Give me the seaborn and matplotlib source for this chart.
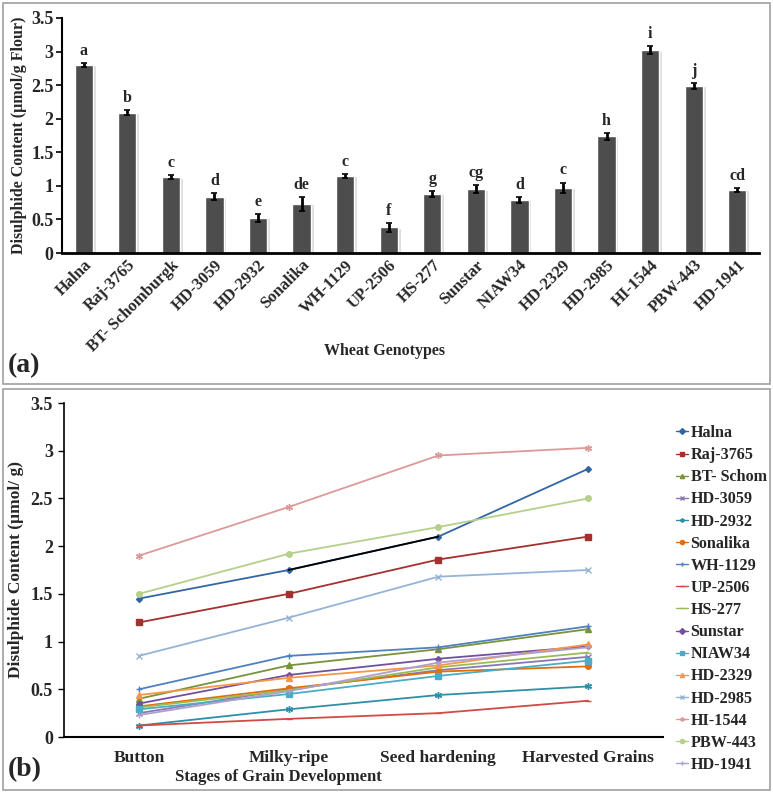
import numpy as np
import pandas as pd
import matplotlib
matplotlib.use("Agg")
import matplotlib.pyplot as plt
import matplotlib.patheffects as pe
from matplotlib.patches import Rectangle
import seaborn as sns

# ---------------- data ----------------
genotypes = ["Halna", "Raj-3765", "BT- Schomburgk", "HD-3059", "HD-2932", "Sonalika",
             "WH-1129", "UP-2506", "HS-277", "Sunstar", "NIAW34", "HD-2329",
             "HD-2985", "HI-1544", "PBW-443", "HD-1941"]
disulphide = [2.80, 2.09, 1.13, 0.84, 0.52, 0.73, 1.15, 0.38, 0.88, 0.95, 0.79, 0.97,
              1.74, 3.02, 2.49, 0.94]
disulphide_err = [0.03, 0.04, 0.03, 0.05, 0.06, 0.10, 0.03, 0.06, 0.04, 0.06, 0.04, 0.08,
                  0.05, 0.06, 0.04, 0.03]
letters = ["a", "b", "c", "d", "e", "de", "c", "f", "g", "cg", "d", "c", "h", "i", "j", "cd"]

stages = ["Button", "Milky-ripe", "Seed hardening", "Harvested Grains"]
legend_labels = ["Halna", "Raj-3765", "BT- Schom", "HD-3059", "HD-2932", "Sonalika",
                 "WH-1129", "UP-2506", "HS-277", "Sunstar", "NIAW34", "HD-2329",
                 "HD-2985", "HI-1544", "PBW-443", "HD-1941"]
halna    = [1.45, 1.75, 2.10, 2.81]
raj_3765 = [1.20, 1.50, 1.86, 2.10]
bt_schom = [0.40, 0.75, 0.92, 1.13]
hd_3059  = [0.25, 0.50, 0.70, 0.84]
hd_2932  = [0.12, 0.29, 0.44, 0.53]
sonalika = [0.32, 0.51, 0.685, 0.74]
wh_1129  = [0.50, 0.85, 0.94, 1.16]
up_2506  = [0.12, 0.19, 0.25, 0.38]
hs_277   = [0.31, 0.49, 0.73, 0.885]
sunstar  = [0.35, 0.65, 0.82, 0.95]
niaw34   = [0.29, 0.45, 0.64, 0.80]
hd_2329  = [0.44, 0.62, 0.75, 0.97]
hd_2985  = [0.85, 1.25, 1.68, 1.75]
hi_1544  = [1.90, 2.41, 2.95, 3.03]
pbw_443  = [1.50, 1.92, 2.20, 2.50]
hd_1941  = [0.23, 0.48, 0.78, 0.94]
series_values = [halna, raj_3765, bt_schom, hd_3059, hd_2932, sonalika, wh_1129, up_2506,
                 hs_277, sunstar, niaw34, hd_2329, hd_2985, hi_1544, pbw_443, hd_1941]

y_ticks = [0, 0.5, 1, 1.5, 2, 2.5, 3, 3.5]
y_tick_labels = ["0", "0.5", "1", "1.5", "2", "2.5", "3", "3.5"]

# ---------------- style ----------------
sns.set_theme(style="white")
plt.rcParams["font.family"] = ["Liberation Serif", "DejaVu Serif"]
plt.rcParams["font.weight"] = "bold"
plt.rcParams["axes.labelweight"] = "bold"

colors = ["#3365A5", "#A3312F", "#77933C", "#8A78B4", "#2E8FA8", "#E46C0A",
          "#4F81BD", "#D04A46", "#9BBB59", "#7150A0", "#4BACC6", "#F79646",
          "#95B3D7", "#DB9A98", "#B5D08A", "#ADA0CC"]
star = (6, 2, 0)
markers = ["D", "s", "^", "x", star, "o", "+", "_", "_", "D", "s", "^", "x", star, "o", "+"]
msizes = [3, 4, 4, 4, 5, 4, 5, 4, 4, 3, 4, 4, 4, 5, 4, 5]

W, H = 773, 794
fig = plt.figure(figsize=(W / 100, H / 100), dpi=100)

def fx(px):
    return px / W

def fy(py):
    return 1 - py / H

# panel frames
for (x0, y0, x1, y1) in [(3, 3, 770, 384), (3, 389, 770, 790)]:
    fig.patches.append(Rectangle((fx(x0), fy(y1)), fx(x1) - fx(x0), fy(y0) - fy(y1),
                                 transform=fig.transFigure, fill=False,
                                 edgecolor="#a0a0a0", linewidth=1.2, zorder=0))

# ---------------- (a) bar chart ----------------
ax1 = fig.add_axes([fx(62), fy(253), fx(759) - fx(62), fy(18) - fy(253)])
df_bar = pd.DataFrame({"genotype": genotypes, "value": disulphide})
sns.barplot(data=df_bar, x="genotype", y="value", color="#4d4d4d", saturation=1,
            width=0.42, errorbar=None, ax=ax1)
for p in ax1.patches:
    p.set_path_effects([pe.SimplePatchShadow(offset=(2, -1), shadow_rgbFace="#c8c8c8",
                                             alpha=0.6), pe.Normal()])
xpos = np.arange(len(genotypes))
ax1.errorbar(xpos, disulphide, yerr=disulphide_err, fmt="none", ecolor="black",
             elinewidth=2, capsize=2, capthick=1.2, zorder=5)
for i, (v, e, l) in enumerate(zip(disulphide, disulphide_err, letters)):
    ax1.text(i, v + e + 0.06, l, ha="center", va="bottom", fontsize=11.5, fontweight="bold")
ax1.set_ylim(0, 3.5)
ax1.set_xlim(-0.5, len(genotypes) - 0.5)
ax1.set_yticks(y_ticks)
ax1.set_yticklabels(y_tick_labels, fontsize=13, fontweight="bold")
ax1.set_xticks(xpos)
ax1.set_xticklabels(genotypes, rotation=45, ha="right", rotation_mode="anchor",
                    fontsize=12, fontweight="bold")
ax1.set_xlabel("")
ax1.set_ylabel("Disulphide Content (µmol/g Flour)", fontsize=11.5, fontweight="bold", labelpad=3)
for s in ["top", "right"]:
    ax1.spines[s].set_visible(False)
ax1.spines["left"].set_color("black")
ax1.spines["left"].set_linewidth(1.5)
ax1.spines["bottom"].set_color("black")
ax1.spines["bottom"].set_linewidth(2)
ax1.tick_params(axis="y", direction="out", length=4, width=1.2, color="black", pad=2, left=True)
ax1.tick_params(axis="x", length=0, pad=3)
fig.text(fx(385), fy(351), "Wheat Genotypes", ha="center", va="center",
         fontsize=11.5, fontweight="bold")
fig.text(fx(8), fy(366), "(a)", ha="left", va="center", fontsize=20, fontweight="bold")

# ---------------- (b) line chart ----------------
ax2 = fig.add_axes([fx(64), fy(737), fx(663) - fx(64), fy(403) - fy(737)])
for lab, vals, c, m, ms in zip(legend_labels, series_values, colors, markers, msizes):
    df_l = pd.DataFrame({"stage": stages, "value": vals})
    sns.lineplot(data=df_l, x="stage", y="value", sort=False, color=c, marker=m,
                 markersize=ms, markeredgecolor=c, markeredgewidth=1.0,
                 linewidth=1.3, ax=ax2, label=lab)
# rendered black segment of Halna between Milky-ripe and Seed hardening
sns.lineplot(x=stages[1:3], y=halna[1:3], sort=False, color="black", linewidth=1.3,
             ax=ax2, legend=False)
ax2.set_xlim(-0.5, len(stages) - 0.5)
ax2.set_ylim(0, 3.5)
ax2.set_yticks(y_ticks)
ax2.set_yticklabels(y_tick_labels, fontsize=13, fontweight="bold")
ax2.set_xticks(range(len(stages)))
ax2.set_xticklabels(stages, fontsize=12.5, fontweight="bold")
ax2.set_xlabel("")
ax2.set_ylabel("Disulphide Content (µmol/ g)", fontsize=12.5, fontweight="bold", labelpad=5)
for s in ["top", "right"]:
    ax2.spines[s].set_visible(False)
ax2.spines["left"].set_color("black")
ax2.spines["left"].set_linewidth(1.2)
ax2.spines["bottom"].set_color("black")
ax2.spines["bottom"].set_linewidth(1.5)
ax2.tick_params(axis="y", direction="out", length=4, width=1, color="black", pad=4, left=True)
ax2.tick_params(axis="x", length=0, pad=9)
leg = ax2.legend(loc="upper left", bbox_to_anchor=(fx(668), fy(417)),
                 bbox_transform=fig.transFigure, frameon=False, borderpad=0,
                 handlelength=0.75, handletextpad=0.15, labelspacing=0.38,
                 prop={"family": "Liberation Serif", "weight": "bold", "size": 11.6})
for h in leg.legend_handles:
    h.set_markersize(3)
    h.set_linewidth(1.0)
fig.text(fx(278), fy(777), "Stages of Grain Development", ha="center", va="center",
         fontsize=12, fontweight="bold")
fig.text(fx(8), fy(770), "(b)", ha="left", va="center", fontsize=20, fontweight="bold")

fig.savefig("out.png", dpi=100)
